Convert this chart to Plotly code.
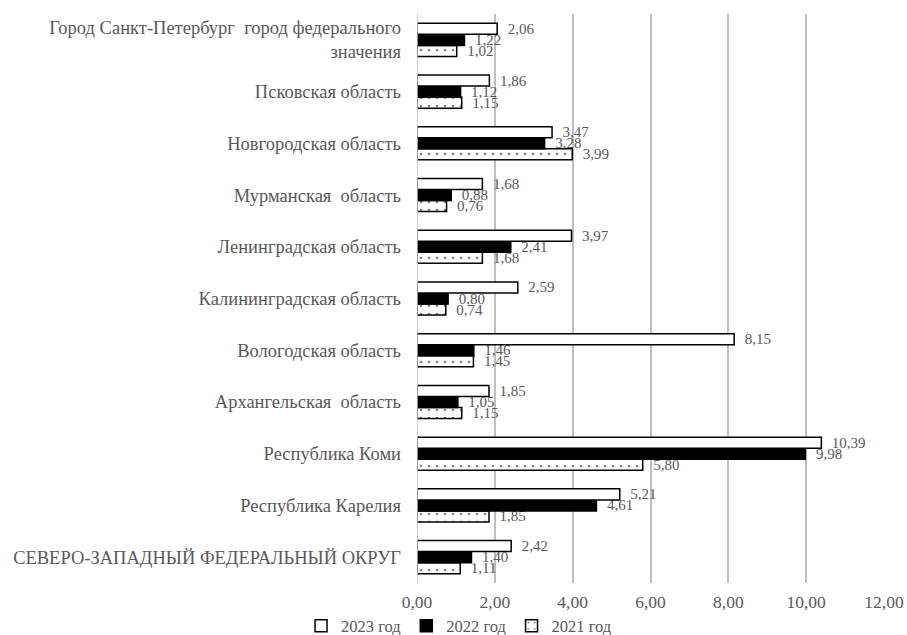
import plotly.graph_objects as go

categories = [
    "СЕВЕРО-ЗАПАДНЫЙ ФЕДЕРАЛЬНЫЙ ОКРУГ",
    "Республика Карелия",
    "Республика Коми",
    "Архангельская  область",
    "Вологодская область",
    "Калининградская область",
    "Ленинградская область",
    "Мурманская  область",
    "Новгородская область",
    "Псковская область",
    "Город Санкт-Петербург  город федерального<br>значения",
]
v2023 = [2.42, 5.21, 10.39, 1.85, 8.15, 2.59, 3.97, 1.68, 3.47, 1.86, 2.06]
v2022 = [1.40, 4.61, 9.98, 1.05, 1.46, 0.80, 2.41, 0.88, 3.28, 1.12, 1.22]
v2021 = [1.11, 1.85, 5.80, 1.15, 1.45, 0.74, 1.68, 0.76, 3.99, 1.15, 1.02]
xticks = [0, 2, 4, 6, 8, 10, 12]

FONT = "Liberation Serif, Times New Roman, DejaVu Serif, serif"
GRAY = "#595959"
fig = go.Figure()
common = dict(orientation="h", y=categories, texttemplate="\u00a0\u00a0%{x:.2f}",
              textposition="outside", cliponaxis=False, constraintext="none",
              textfont=dict(family=FONT, size=15, color=GRAY))
fig.add_trace(go.Bar(name="2021 год", x=v2021,
                     marker=dict(color="white", line=dict(color="black", width=1.5),
                                 pattern=dict(shape=".", fgcolor="black", bgcolor="white",
                                              size=8, solidity=0.08)),
                     **common))
fig.add_trace(go.Bar(name="2022 год", x=v2022,
                     marker=dict(color="black", line=dict(color="black", width=1.5)),
                     **common))
fig.add_trace(go.Bar(name="2023 год", x=v2023,
                     marker=dict(color="white", line=dict(color="black", width=1.5)),
                     **common))

fig.update_layout(
    width=907, height=635,
    margin=dict(l=417, r=23, t=14, b=52, autoexpand=False),
    barmode="group", bargap=0.36, bargroupgap=0,
    separators=", ",
    plot_bgcolor="white", paper_bgcolor="white",
    font=dict(family=FONT, size=14, color=GRAY),
    showlegend=True,
    legend=dict(orientation="h", x=0.09, xanchor="center", y=-0.0756, yanchor="middle",
                yref="paper", xref="paper", bgcolor="rgba(0,0,0,0)",
                traceorder="reversed", font=dict(family=FONT, size=16.5, color=GRAY),
                itemwidth=30, tracegroupgap=0),
    xaxis=dict(range=[0, 12], tickvals=xticks, tickformat=".2f", automargin=False,
               showgrid=True, gridcolor="#bfbfbf", gridwidth=1.5,
               zeroline=False, showline=False, ticks="", ticklabelstandoff=6,
               tickfont=dict(family=FONT, size=17.5, color=GRAY)),
    yaxis=dict(showgrid=False, showline=False, ticks="", zeroline=False,
               tickfont=dict(family=FONT, size=18.5, color=GRAY),
               automargin=False, ticklabelstandoff=15),
)
fig.add_shape(type="line", xref="x", yref="paper", x0=0, x1=0, y0=0, y1=1,
              line=dict(color="#bfbfbf", width=1.5))
fig.write_html("out.html", config={"displayModeBar": False},
               post_script="document.body.style.margin='0';document.body.style.overflow='hidden';")
